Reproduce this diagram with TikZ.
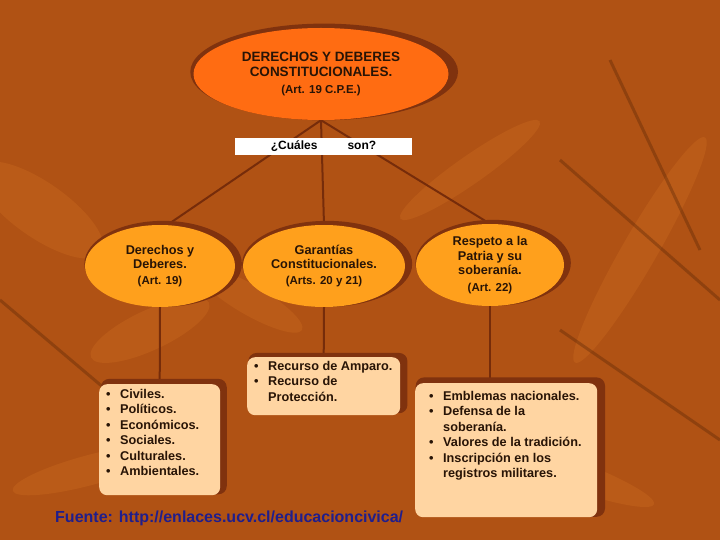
\documentclass[tikz,border=0pt]{standalone}
\usepackage{fontspec}
\setmainfont{Liberation Sans}
\usetikzlibrary{positioning,shapes.geometric,shadows,calc}

\definecolor{fondo}{RGB}{176,82,20}
\definecolor{fondoOsc}{RGB}{84,34,5}
\definecolor{hoja}{RGB}{230,130,40}
\definecolor{naranja}{RGB}{255,108,18}
\definecolor{ambar}{RGB}{255,160,28}
\definecolor{crema}{RGB}{255,213,162}
\definecolor{sombra}{RGB}{128,50,14}
\definecolor{linea}{RGB}{118,44,10}
\definecolor{tinta}{RGB}{40,20,6}
\definecolor{azul}{RGB}{32,30,140}

\pgfdeclareverticalshading{fondoshade}{100bp}{color(0bp)=(fondoOsc); color(6bp)=(fondo!75!fondoOsc); color(13bp)=(fondo); color(90bp)=(fondo); color(96bp)=(fondo!65!fondoOsc); color(100bp)=(fondoOsc)}

\pgfdeclarelayer{capaFondo}
\pgfdeclarelayer{capaLineas}
\pgfsetlayers{capaFondo,capaLineas,main}

\newcommand{\punto}{\makebox[14pt][l]{\textbullet}}
\newcommand{\sigue}{\hspace*{14pt}}
\newcommand{\art}{\fontsize{11.5}{13}\selectfont}

\begin{document}
\begin{tikzpicture}
  [x=1pt, y=-1pt,
   elipse/.style={ellipse, fill=ambar, inner sep=0pt, minimum height=82pt,
     align=center, text=tinta, font=\bfseries\fontsize{12.7}{14.6}\selectfont,
     drop shadow={shadow xshift=3pt, shadow yshift=2pt, shadow scale=1.05,
       fill=sombra, opacity=1}},
   caja/.style={rectangle, rounded corners=8pt, fill=crema, inner sep=0pt,
     anchor=north west,
     drop shadow={shadow xshift=4pt, shadow yshift=3pt, shadow scale=1.04,
       fill=sombra, opacity=1}},
   lista/.style={anchor=north west, align=left, inner sep=0pt, text=tinta,
     font=\bfseries\fontsize{12.7}{15.5}\selectfont},
   conector/.style={draw=linea, line width=2pt}]

  \useasboundingbox (0,0) rectangle (720,540);

  \begin{pgfonlayer}{capaFondo}
    \clip (0,0) rectangle (720,540);
    \shade [shading=fondoshade] (0,0) rectangle (720,540);
    % hojas del fondo
    \foreach \x/\y/\ang/\lar/\anc in {40/210/-35/150/55, 150/330/25/130/40,
        640/250/60/260/35, 560/470/-20/200/30, 90/470/15/160/30,
        470/170/35/170/28, 250/300/-30/120/30}
      \fill [hoja, opacity=.2, rotate around={\ang:(\x,\y)}]
        (\x,\y) ellipse ({\lar/2} and {\anc/2});
    \foreach \xa/\ya/\xb/\yb in {560/160/720/300, 610/60/700/250,
        0/300/130/410, 560/330/720/440}
      \draw [fondoOsc, opacity=.35, line width=3pt] (\xa,\ya) -- (\xb,\yb);
  \end{pgfonlayer}

  % nivel superior
  \node [elipse, fill=naranja, minimum width=255pt, minimum height=92pt,
    font=\bfseries\fontsize{13.5}{15}\selectfont] (dd) at (321,74)
    {DERECHOS Y DEBERES\\CONSTITUCIONALES.\\[2pt]
     {\art (Art. 19 C.P.E.)}};

  \node [fill=white, minimum width=177pt, minimum height=17pt, inner sep=0pt,
    text=black, font=\bfseries\fontsize{12}{12}\selectfont] (cuales)
    at (323.5,146.5) {¿Cuáles\hspace{30pt}son?};

  % segundo nivel
  \node [elipse, minimum width=150pt] (der) at (160,266)
    {Derechos y\\Deberes.\\[1pt]{\art (Art. 19)}};
  \node [elipse, minimum width=162pt] (gar) at (324,266)
    {Garantías\\Constitucionales.\\[1pt]{\art (Arts. 20 y 21)}};
  \node [elipse, minimum width=148pt] (res) at (490,265)
    {Respeto a la\\Patria y su\\soberanía.\\[2pt]{\art (Art. 22)}};

  % tercer nivel
  \node [caja, minimum width=121pt, minimum height=111pt] (cajaDer) at (99,384) {};
  \node [lista] (listaDer) at ([shift={(7,5)}]cajaDer.north west)
    {\punto Civiles.\\ \punto Políticos.\\ \punto Económicos.\\
     \punto Sociales.\\ \punto Culturales.\\ \punto Ambientales.};

  \node [caja, minimum width=153pt, minimum height=58pt] (cajaGar) at (247,357) {};
  \node [lista] (listaGar) at ([shift={(7,4)}]cajaGar.north west)
    {\punto Recurso de Amparo.\\ \punto Recurso de\\ \sigue Protección.};

  \node [caja, minimum width=182pt, minimum height=134pt] (cajaRes) at (415,383) {};
  \node [lista] (listaRes) at ([shift={(14,8)}]cajaRes.north west)
    {\punto Emblemas nacionales.\\ \punto Defensa de la\\ \sigue soberanía.\\
     \punto Valores de la tradición.\\ \punto Inscripción en los\\
     \sigue registros militares.};

  \node [anchor=west, inner sep=0pt, text=azul,
    font=\bfseries\fontsize{16}{17}\selectfont] (fuente) at (55,518)
    {Fuente: http://enlaces.ucv.cl/educacioncivica/};

  \begin{pgfonlayer}{capaLineas}
    \draw [conector] (dd.south) -- (der.80);
    \draw [conector] (dd.south) -- (gar.north);
    \draw [conector] (dd.south) -- (res.north);
    \draw [conector] (der.south) -- (cajaDer.north);
    \draw [conector] (gar.south) -- (cajaGar.north);
    \draw [conector] (res.south) -- (res.south |- cajaRes.north);
  \end{pgfonlayer}
\end{tikzpicture}
\end{document}
